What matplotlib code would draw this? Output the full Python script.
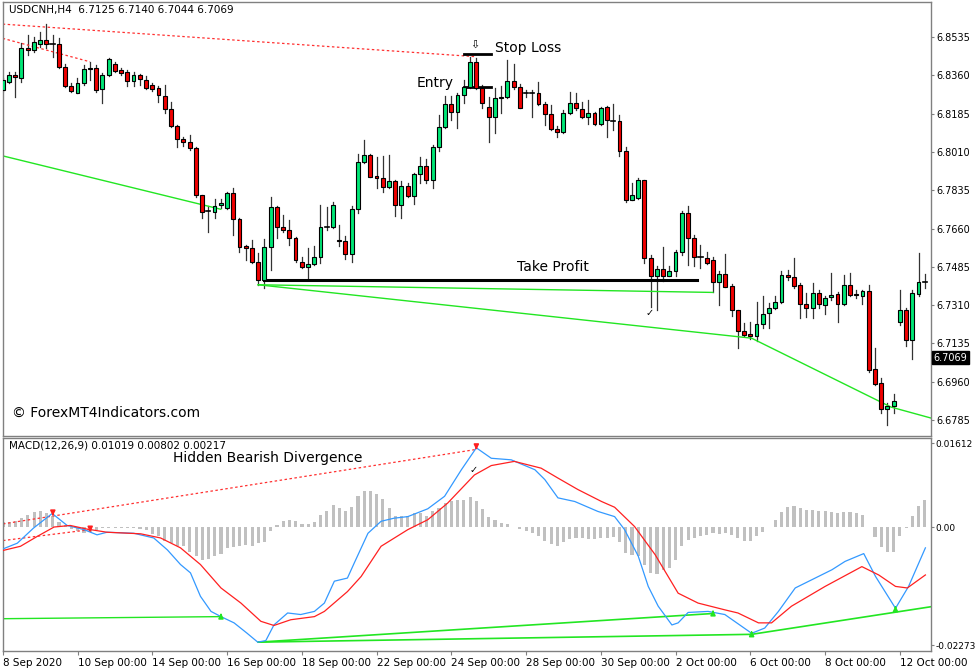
import matplotlib
matplotlib.use("Agg")
import matplotlib.pyplot as plt
import numpy as np

# ---------------- data ----------------
opens = [6.8293,6.8331,6.8360,6.8346,6.8483,6.8476,6.8502,6.8521,6.8502,6.8502,6.8400,6.8311,6.8281,6.8327,6.8387,6.8392,6.8296,6.8362,6.8412,6.8384,
6.8375,6.8333,6.8362,6.8339,6.8314,6.8301,6.8267,6.8205,6.8129,6.8068,6.8057,6.8027,6.7811,6.7738,6.7735,6.7768,6.7753,6.7821,6.7704,6.7578,
6.7570,6.7506,6.7423,6.7575,6.7758,6.7669,6.7654,6.7616,6.7506,6.7484,6.7499,6.7528,6.7666,6.7666,6.7608,6.7601,6.7544,6.7748,6.7966,6.7995,
6.7901,6.7890,6.7849,6.7875,6.7768,6.7856,6.7809,6.7908,6.7946,6.7882,6.8034,6.8123,6.8229,6.8194,6.8270,6.8305,6.8422,6.8301,6.8217,6.8171,
6.8255,6.8263,6.8334,6.8308,6.8278,6.8278,6.8281,6.8229,6.8184,6.8114,6.8103,6.8187,6.8235,6.8205,6.8168,6.8187,6.8138,6.8214,6.8153,6.8153,
6.8012,6.7791,6.7799,6.7882,6.7525,6.7441,6.7475,6.7444,6.7464,6.7551,6.7730,6.7616,6.7532,6.7525,6.7517,6.7414,6.7452,6.7398,6.7286,6.7190,
6.7179,6.7167,6.7225,6.7274,6.7296,6.7322,6.7446,6.7438,6.7403,6.7316,6.7296,6.7365,6.7312,6.7347,6.7362,6.7316,6.7400,6.7362,6.7353,6.7373,
6.7018,6.6954,6.6835,6.6851,6.7231,6.7289,6.7149,6.7362,6.7415]
highs = [6.8346,6.8377,6.8377,6.8506,6.8544,6.8534,6.8559,6.8594,6.8544,6.8529,6.8412,6.8324,6.8346,6.8407,6.8422,6.8407,6.8369,6.8438,6.8422,6.8392,
6.8384,6.8377,6.8366,6.8357,6.8327,6.8311,6.8316,6.8240,6.8133,6.8080,6.8088,6.8034,6.7814,6.7761,6.7794,6.7794,6.7829,6.7844,6.7707,6.7586,
6.7608,6.7547,6.7611,6.7806,6.7764,6.7723,6.7700,6.7621,6.7532,6.7570,6.7578,6.7768,6.7758,6.7779,6.7677,6.7624,6.7761,6.8001,6.8065,6.8001,
6.7989,6.7992,6.7996,6.7882,6.7875,6.7870,6.7913,6.7989,6.7977,6.8042,6.8179,6.8266,6.8266,6.8278,6.8339,6.8442,6.8438,6.8316,6.8263,6.8301,
6.8311,6.8430,6.8412,6.8321,6.8293,6.8293,6.8331,6.8240,6.8225,6.8129,6.8202,6.8286,6.8278,6.8240,6.8248,6.8194,6.8217,6.8220,6.8229,6.8179,
6.8034,6.7870,6.7890,6.7882,6.7540,6.7487,6.7575,6.7487,6.7560,6.7738,6.7764,6.7631,6.7586,6.7555,6.7532,6.7464,6.7544,6.7407,6.7289,6.7228,
6.7231,6.7322,6.7350,6.7319,6.7353,6.7464,6.7471,6.7525,6.7411,6.7365,6.7411,6.7377,6.7350,6.7459,6.7368,6.7449,6.7456,6.7377,6.7380,6.7403,
6.7114,6.6977,6.6863,6.6905,6.7380,6.7296,6.7380,6.7547,6.7453]
lows = [6.8290,6.8324,6.8263,6.8331,6.8453,6.8468,6.8491,6.8483,6.8445,6.8392,6.8308,6.8286,6.8281,6.8316,6.8339,6.8286,6.8232,6.8357,6.8377,6.8362,
6.8311,6.8311,6.8316,6.8296,6.8290,6.8240,6.8187,6.8126,6.8034,6.8037,6.8019,6.7806,6.7707,6.7643,6.7707,6.7753,6.7748,6.7631,6.7555,6.7517,
6.7502,6.7403,6.7388,6.7471,6.7616,6.7642,6.7586,6.7509,6.7479,6.7433,6.7494,6.7502,6.7654,6.7662,6.7581,6.7520,6.7509,6.7730,6.7958,6.7894,
6.7844,6.7829,6.7844,6.7715,6.7707,6.7803,6.7773,6.7867,6.7870,6.7844,6.8012,6.8118,6.8156,6.8118,6.8235,6.8301,6.8296,6.8209,6.8057,6.8095,
6.8190,6.8255,6.8296,6.8209,6.8263,6.8168,6.8225,6.8133,6.8111,6.8080,6.8098,6.8184,6.8202,6.8164,6.8138,6.8133,6.8133,6.8080,6.8111,6.7992,
6.7783,6.7791,6.7794,6.7502,6.7301,6.7286,6.7418,6.7441,6.7444,6.7540,6.7494,6.7487,6.7479,6.7499,6.7368,6.7312,6.7392,6.7261,6.7114,6.7167,
6.7155,6.7144,6.7205,6.7205,6.7292,6.7319,6.7426,6.7388,6.7251,6.7255,6.7251,6.7296,6.7271,6.7335,6.7231,6.7312,6.7350,6.7342,6.7316,6.7003,
6.6946,6.6817,6.6764,6.6817,6.7220,6.7122,6.7064,6.7353,6.7388]
closes = [6.8339,6.8360,6.8351,6.8483,6.8476,6.8514,6.8521,6.8502,6.8502,6.8400,6.8313,6.8290,6.8327,6.8387,6.8392,6.8293,6.8362,6.8433,6.8381,6.8372,
6.8333,6.8362,6.8342,6.8301,6.8296,6.8270,6.8205,6.8129,6.8068,6.8057,6.8027,6.7814,6.7735,6.7738,6.7764,6.7776,6.7821,6.7704,6.7575,6.7570,
6.7506,6.7423,6.7575,6.7758,6.7669,6.7651,6.7616,6.7517,6.7484,6.7497,6.7528,6.7666,6.7666,6.7768,6.7601,6.7544,6.7748,6.7966,6.7995,6.7897,
6.7890,6.7849,6.7878,6.7768,6.7856,6.7809,6.7908,6.7946,6.7882,6.8034,6.8123,6.8229,6.8194,6.8270,6.8305,6.8422,6.8301,6.8235,6.8171,6.8255,
6.8263,6.8334,6.8308,6.8209,6.8278,6.8278,6.8229,6.8184,6.8114,6.8103,6.8187,6.8235,6.8209,6.8168,6.8187,6.8138,6.8209,6.8156,6.8153,6.8012,
6.7791,6.7814,6.7882,6.7525,6.7441,6.7475,6.7444,6.7464,6.7551,6.7730,6.7616,6.7532,6.7532,6.7502,6.7414,6.7452,6.7395,6.7286,6.7190,6.7172,
6.7167,6.7225,6.7271,6.7296,6.7322,6.7446,6.7438,6.7398,6.7316,6.7296,6.7365,6.7316,6.7342,6.7357,6.7316,6.7400,6.7357,6.7354,6.7373,6.7015,
6.6951,6.6835,6.6848,6.6870,6.7289,6.7149,6.7365,6.7415,6.7415]

hist = [0.0009,0.0009,0.0011,0.0017,0.0024,0.0028,0.0030,0.0027,0.0021,0.0009,0.0003,-0.0004,-0.0008,-0.0012,-0.0010,-0.0006,-0.0002,-0.0001,-0.0001,-0.0001,
-0.0002,-0.0002,-0.0003,-0.0006,-0.0013,-0.0018,-0.0026,-0.0031,-0.0036,-0.0037,-0.0047,-0.0055,-0.0063,-0.0061,-0.0055,-0.0051,-0.0040,-0.0038,-0.0037,-0.0034,
-0.0037,-0.0031,-0.0029,-0.0008,0.0004,0.0011,0.0014,0.0011,0.0006,0.0006,0.0009,0.0024,0.0030,0.0043,0.0036,0.0030,0.0038,0.0059,0.0070,0.0070,
0.0064,0.0054,0.0036,0.0021,0.0022,0.0022,0.0026,0.0026,0.0022,0.0030,0.0036,0.0046,0.0049,0.0051,0.0051,0.0058,0.0049,0.0035,0.0019,
0.0013,0.0008,0.0006,0.0001,-0.0004,-0.0008,-0.0012,-0.0018,-0.0026,-0.0032,-0.0037,-0.0028,-0.0023,-0.0021,-0.0021,-0.0023,-0.0023,-0.0021,-0.0021,-0.0019,
-0.0029,-0.0049,-0.0053,-0.0056,-0.0072,-0.0088,-0.0090,-0.0082,-0.0079,-0.0063,-0.0037,-0.0024,-0.0021,-0.0017,-0.0015,-0.0012,-0.0013,-0.0012,-0.0015,-0.0021,
-0.0026,-0.0026,-0.0018,-0.0010,0.0000,0.0013,0.0028,0.0038,0.0040,0.0036,0.0032,0.0032,0.0030,0.0030,0.0028,0.0027,0.0028,0.0028,0.0027,0.0024,
0.0001,-0.0019,-0.0038,-0.0047,-0.0047,-0.0018,-0.0002,0.0022,0.0041,0.0051]

macd_idx = [0,2.3,4.9,7.9,10.3,13,15.1,16.7,21,24.2,26.4,28.5,30.1,31.7,33.4,35,37.1,39.2,40.9,42.2,43.5,45.7,47.8,50,51.6,53.2,55.3,56.4,58.6,60.7,62.8,65,68.2,70.9,73.6,76,78.4,
81.6,85.4,87,89.1,91.8,95.5,98.2,99.8,102,103.6,105.2,107.4,108.4,110,113.2,115.9,120.2,122.3,124.5,127.2,129.9,133.1,135.2,138.2,140.1,143.3,145.4,148.1]
macd_val = [-0.0042,-0.0031,-0.0002,0.0026,0.0003,-0.0005,-0.0015,-0.0010,-0.0012,-0.0021,-0.0044,-0.0072,-0.0088,-0.0133,-0.0162,-0.0172,-0.0184,-0.0204,-0.0221,-0.0218,-0.0188,-0.0165,-0.0168,-0.0162,-0.0146,-0.0104,-0.0098,-0.0069,-0.0012,0.0011,0.0017,0.0020,0.0035,0.0059,0.0110,0.0152,0.0132,
0.0129,0.0110,0.0091,0.0056,0.0049,0.0030,0.0020,-0.0005,-0.0056,-0.0114,-0.0152,-0.0188,-0.0184,-0.0164,-0.0162,-0.0168,-0.0204,-0.0194,-0.0162,-0.0117,-0.0101,-0.0082,-0.0066,-0.0051,-0.0095,-0.0156,-0.0114,-0.0040]
sig_idx = [0,2.8,5.5,8.2,10.8,13.5,16.7,22.1,25.3,28.5,31.7,35,38.2,41.4,43.5,46.2,50,51.6,55.3,57.5,60.7,65,68.2,71.4,75.7,78.4,
82.1,86.4,89.1,92.3,96.1,98.2,101.4,104.7,108.4,111.6,115.9,118,121.3,123.4,126.6,132,137.9,140.6,143.3,145.2,148.1]
sig_val = [-0.0045,-0.0037,-0.0018,0.0000,0.0003,-0.0004,-0.0010,-0.0013,-0.0021,-0.0040,-0.0072,-0.0117,-0.0146,-0.0181,-0.0189,-0.0178,-0.0172,-0.0162,-0.0124,-0.0095,-0.0037,-0.0005,0.0014,0.0046,0.0100,0.0118,
0.0126,0.0113,0.0094,0.0072,0.0049,0.0038,0.0001,-0.0053,-0.0127,-0.0146,-0.0159,-0.0165,-0.0184,-0.0184,-0.0152,-0.0114,-0.0076,-0.0092,-0.0114,-0.0117,-0.0092]

date_idx = [0,12,24,36,48,60,72,84,96,108,120,132,144]
date_labels = ["8 Sep 2020","10 Sep 00:00","14 Sep 00:00","16 Sep 00:00","18 Sep 00:00","22 Sep 00:00",
               "24 Sep 00:00","28 Sep 00:00","30 Sep 00:00","2 Oct 00:00","6 Oct 00:00","8 Oct 00:00","12 Oct 00:00"]
price_ticks = [6.8535,6.8360,6.8185,6.8010,6.7835,6.7660,6.7485,6.7310,6.7135,6.6960,6.6785]
macd_ticks = [0.01612,0.0,-0.02273]
macd_tick_labels = ["0.01612","0.00","-0.02273"]

entry_price, stop_price, tp_price = 6.8305, 6.8456, 6.7426
last_price = 6.7069

# ---------------- figure ----------------
W, H = 977, 672
fig = plt.figure(figsize=(W/100, H/100), dpi=100)
plt.rcParams['font.family'] = ['DejaVu Sans']
ax = fig.add_axes([3/W, 1-436/H, 928/W, 434/H])
ax2 = fig.add_axes([3/W, 1-651/H, 928/W, 213/H])
XL = (0.05, 149.0)
for a in (ax, ax2):
    a.set_xlim(*XL)
    a.yaxis.tick_right()
    for s in a.spines.values():
        s.set_color('#808080'); s.set_linewidth(1)
    a.tick_params(axis='y', labelsize=7, length=2, color='#808080', pad=2)
ax2.tick_params(axis='y', labelsize=6.5, pad=1)
ax.set_ylim(6.6712, 6.8695)
ax2.set_ylim(-0.0238, 0.01709)

green = '#00E676'
red = '#F00000'
n = len(opens)
idx = np.arange(n)
for i in range(n):
    o, h, l, c = opens[i], highs[i], lows[i], closes[i]
    ax.plot([i, i], [l, h], color='#333333', lw=0.9, zorder=2)
    lo, hi = min(o, c), max(o, c)
    if hi - lo < 0.0002:
        ax.plot([i-0.33, i+0.33], [o, o], color='black', lw=1.2, zorder=3)
    else:
        ax.bar(i, hi-lo, bottom=lo, width=0.62, color=green if c >= o else red,
               edgecolor='black', linewidth=0.8, zorder=3)

# trend lines main
ax.plot([0, 76], [6.8594, 6.8445], color='#ff3030', ls=(0, (2, 2)), lw=0.9)
ax.plot([0, 14], [6.8529, 6.8422], color='#ff3030', ls=(0, (2, 2)), lw=0.9)
ax.plot([0, 35], [6.7992, 6.7748], color='#22e622', lw=1)
ax.plot([41, 114, 114], [6.7403, 6.7368, 6.7368], color='#22e622', lw=1)
ax.plot([41, 120.2, 142.6, 149], [6.7403, 6.7159, 6.6844, 6.6794], color='#22e622', lw=1)
ax.plot([41.9, 111.4], [tp_price, tp_price], color='black', lw=2.2)
ax.plot([74.1, 78.3], [stop_price, stop_price], color='black', lw=2)
ax.plot([74.1, 78.3], [entry_price, entry_price], color='black', lw=2)
ax.text(66.4, 6.8325, "Entry", fontsize=10, va='center', ha='left')
ax.text(79.0, 6.8485, "Stop Loss", fontsize=10, va='center', ha='left')
ax.text(82.5, 6.7484, "Take Profit", fontsize=10, va='center', ha='left')
ax.text(75.8, 6.8500, "⇩", fontsize=8, va='center', ha='center')
ax.text(103.9, 6.7275, "✓", fontsize=7, va='center', ha='center')
ax.text(1.5, 6.6817, "© ForexMT4Indicators.com", fontsize=10, va='center', ha='left')
ax.text(0.006, 0.982, "USDCNH,H4  6.7125 6.7140 6.7044 6.7069", transform=ax.transAxes,
        fontsize=7.5, va='center', ha='left')
ax.set_yticks(price_ticks)
ax.set_yticklabels([f"{p:.4f}" for p in price_ticks])
ax.set_xticks([])
ax.text(1.003, last_price, f"{last_price:.4f}", transform=ax.get_yaxis_transform(),
        fontsize=7, color='white', va='center', ha='left',
        bbox=dict(boxstyle='square,pad=0.15', fc='black', ec='black'))

# MACD panel
ax2.bar(idx, hist, width=0.5, color='#C0C0C0', zorder=1)
ax2.plot(macd_idx, macd_val, color='#3399ff', lw=0.9, zorder=3)
ax2.plot(sig_idx, sig_val, color='#ff2020', lw=0.9, zorder=3)
ax2.plot([0, 76], [0.0006, 0.0149], color='#ff3030', ls=(0, (2, 2)), lw=0.9)
ax2.plot([0, 14], [-0.0026, -0.0005], color='#ff3030', ls=(0, (2, 2)), lw=0.9)
ax2.plot([0, 35], [-0.0176, -0.0172], color='#22e622', lw=1)
ax2.plot([41, 114], [-0.0221, -0.0166], color='#22e622', lw=1.2)
ax2.plot([41, 120.2, 149], [-0.0221, -0.0206, -0.0153], color='#22e622', lw=1.2)
for xi, yv in [(35, -0.0172), (114, -0.0166), (120.2, -0.0206), (143.3, -0.0158)]:
    ax2.annotate('', xy=(xi, yv+0.0012), xytext=(xi, yv-0.0004),
                 arrowprops=dict(arrowstyle='-|>', color='#22e622', lw=1.2, mutation_scale=7))
for xi, yv in [(8, 0.0028), (14, -0.0003), (76, 0.0155)]:
    ax2.annotate('', xy=(xi, yv-0.0012), xytext=(xi, yv+0.0004),
                 arrowprops=dict(arrowstyle='-|>', color='#ff2020', lw=1.2, mutation_scale=7))
ax2.text(75.6, 0.0110, "✓", fontsize=7, va='center', ha='center')
ax2.text(27.3, 0.01325, "Hidden Bearish Divergence", fontsize=10, va='center', ha='left')
ax2.text(0.006, 0.965, "MACD(12,26,9) 0.01019 0.00802 0.00217", transform=ax2.transAxes,
         fontsize=7.5, va='center', ha='left')
ax2.set_yticks(macd_ticks)
ax2.set_yticklabels(macd_tick_labels)
ax2.set_xticks(date_idx)
ax2.set_xticklabels(date_labels, fontsize=7.5, ha='left')
ax2.tick_params(axis='x', length=3, color='#808080', pad=2)

fig.savefig("out.png", dpi=100)
